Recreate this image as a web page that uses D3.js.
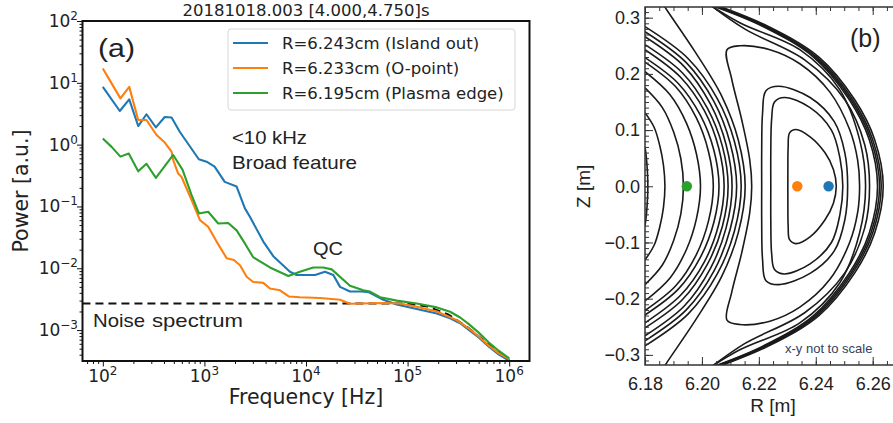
<!DOCTYPE html>
<html>
<head>
<meta charset="utf-8">
<script src="https://cdn.jsdelivr.net/npm/d3@7"></script>
<style>
  body { margin: 0; background: #fff; }
  text { font-family: "DejaVu Sans", sans-serif; fill: #222; }
  .ann text, text.ann { font-family: "Liberation Sans", Arial, sans-serif; }
</style>
</head>
<body>
<svg id="chart" width="893" height="423"></svg>
<script>
// ---------- panel (a) : spectra ----------
const islandFreq = [100,147,182,223,269,333,407,475,574,881,1050,1260,1585,2075,2505,2805,3800,4765,6950,8090,12270,15380,18580,21630,27100,35400,41700,57700,78200,123000,194000,262000,329000,398000,501000,631000,794000,1000000];
const islandPow  = [8.6,3.5,5.4,2.0,3.1,1.9,2.8,2.75,1.6,0.58,0.53,0.44,0.25,0.21,0.093,0.068,0.027,0.0157,0.0088,0.0078,0.0078,0.0088,0.0078,0.0050,0.0042,0.0042,0.0041,0.0031,0.0026,0.0022,0.00186,0.00155,0.00129,0.00102,0.00076,0.00054,0.0004,0.00032];

const opointFreq = [100,122,149,182,223,269,338,407,475,493,552,596,748,904,1089,1318,1656,1950,2240,2606,3020,3800,4416,5546,6760,8710,13740,21630,27100,57700,84300,123000,194000,305000,398000,501000,631000,794000,1000000];
const opointPow  = [17,9.8,5.6,8.6,2.5,2.5,1.43,1.08,0.77,0.56,0.34,0.30,0.127,0.060,0.047,0.027,0.0145,0.0136,0.0112,0.0073,0.0060,0.0058,0.0047,0.0044,0.0035,0.0034,0.0033,0.0031,0.00266,0.00275,0.0027,0.00238,0.0020,0.00145,0.00107,0.00079,0.00056,0.00042,0.00034];

const edgeFreq = [100,122,149,180,223,269,333,493,610,748,883,1089,1368,1714,2075,2512,3020,4416,6700,8710,11800,14790,17900,27100,36600,42700,53600,78200,123000,194000,262000,329000,398000,501000,631000,794000,1000000];
const edgePow  = [1.26,0.92,0.64,0.72,0.37,0.49,0.29,0.68,0.39,0.153,0.077,0.082,0.053,0.054,0.041,0.025,0.0151,0.0103,0.0075,0.0088,0.0103,0.0103,0.0096,0.0052,0.0044,0.0042,0.0034,0.0030,0.0027,0.00233,0.00198,0.0016,0.00126,0.00091,0.00063,0.00046,0.00035];

const noiseFreq = [63,100000,158000,251000,398000,631000,1000000];
const noisePow  = [0.0027,0.0027,0.0024,0.0018,0.00108,0.00058,0.00033];

const seriesNames = ["R=6.243cm (Island out)", "R=6.233cm (O-point)", "R=6.195cm (Plasma edge)"];
const seriesColors = ["#1f77b4", "#ff7f0e", "#2ca02c"];
const xDecades = [2, 3, 4, 5, 6];
const yDecades = [2, 1, 0, -1, -2, -3];

// ---------- panel (b) : flux surfaces ----------
const probeR = [6.2445, 6.2335, 6.1947];
const probeZ = [0, 0, 0];

// nested island surfaces (closed)
const islandSurfaces = [
  [[6.2472,0],[6.2462,0.03],[6.2432,0.06],[6.2380,0.088],[6.2330,0.101],[6.2308,0.095],[6.2303,0.07],[6.2302,0.03],[6.2302,-0.03],[6.2303,-0.07],[6.2308,-0.095],[6.2330,-0.102],[6.2380,-0.09],[6.2432,-0.06],[6.2462,-0.03]],
  [[6.2495,0],[6.2485,0.05],[6.2455,0.10],[6.2380,0.140],[6.2290,0.158],[6.2255,0.150],[6.2245,0.12],[6.2242,0.06],[6.2242,0],[6.2242,-0.06],[6.2245,-0.12],[6.2255,-0.148],[6.2290,-0.156],[6.2380,-0.138],[6.2455,-0.10],[6.2485,-0.05]],
  [[6.2512,0],[6.2502,0.06],[6.2465,0.115],[6.2380,0.158],[6.2270,0.178],[6.2225,0.170],[6.2213,0.13],[6.2210,0.06],[6.2210,0],[6.2210,-0.06],[6.2213,-0.13],[6.2225,-0.168],[6.2270,-0.175],[6.2380,-0.155],[6.2465,-0.115],[6.2502,-0.06]],
  [[6.2554,0],[6.2547,0.047],[6.2519,0.101],[6.2449,0.168],[6.2344,0.218],[6.2239,0.243],[6.2133,0.250],[6.2088,0.243],[6.2105,0.19],[6.2140,0.118],[6.2168,0.047],[6.2175,0],[6.2168,-0.047],[6.2140,-0.118],[6.2105,-0.188],[6.2088,-0.238],[6.2133,-0.246],[6.2239,-0.240],[6.2344,-0.215],[6.2449,-0.166],[6.2519,-0.100],[6.2547,-0.047]]
];

// core-side surfaces, entering and leaving through the left (or top/bottom) frame
const coreSurfaces = [
  [[6.1800,0.070],[6.1805,0.050],[6.1810,0],[6.1805,-0.050],[6.1800,-0.070]],
  [[6.1800,0.131],[6.1832,0.105],[6.1852,0.072],[6.1865,0.037],[6.1870,0],[6.1865,-0.037],[6.1852,-0.072],[6.1832,-0.105],[6.1800,-0.131]],
  [[6.1800,0.175],[6.1861,0.140],[6.1901,0.096],[6.1926,0.049],[6.1935,0],[6.1926,-0.049],[6.1901,-0.096],[6.1861,-0.140],[6.1800,-0.175]],
  [[6.1800,0.204],[6.1888,0.163],[6.1946,0.112],[6.1981,0.057],[6.1995,0],[6.1981,-0.057],[6.1946,-0.112],[6.1888,-0.163],[6.1800,-0.204]],
  [[6.1800,0.221],[6.1908,0.177],[6.1980,0.122],[6.2023,0.062],[6.2040,0],[6.2023,-0.062],[6.1980,-0.122],[6.1908,-0.177],[6.1800,-0.221]],
  [[6.1800,0.229],[6.1917,0.183],[6.1995,0.126],[6.2042,0.064],[6.2060,0],[6.2042,-0.064],[6.1995,-0.126],[6.1917,-0.183],[6.1800,-0.229]],
  [[6.1800,0.243],[6.1925,0.194],[6.2009,0.134],[6.2059,0.068],[6.2078,0],[6.2059,-0.068],[6.2009,-0.134],[6.1925,-0.194],[6.1800,-0.243]],
  [[6.1800,0.252],[6.1931,0.202],[6.2019,0.139],[6.2072,0.071],[6.2092,0],[6.2072,-0.071],[6.2019,-0.139],[6.1931,-0.202],[6.1800,-0.252]],
  [[6.1800,0.266],[6.1938,0.213],[6.2030,0.146],[6.2085,0.074],[6.2106,0],[6.2085,-0.074],[6.2030,-0.146],[6.1938,-0.213],[6.1800,-0.266]],
  [[6.1800,0.275],[6.1945,0.220],[6.2042,0.151],[6.2099,0.077],[6.2122,0],[6.2099,-0.077],[6.2042,-0.151],[6.1945,-0.220],[6.1800,-0.275]],
  [[6.1800,0.284],[6.1952,0.227],[6.2054,0.156],[6.2114,0.080],[6.2138,0],[6.2114,-0.080],[6.2054,-0.156],[6.1952,-0.227],[6.1800,-0.284]],
  [[6.1850,0.335],[6.1875,0.315],[6.1975,0.240],[6.2070,0.160],[6.2128,0.082],[6.2152,0],[6.2128,-0.082],[6.2070,-0.160],[6.1975,-0.240],[6.1875,-0.315],[6.1850,-0.335]]
];

// outer surfaces, entering through top frame and leaving through bottom frame
const outerSurfaces = [
  [[6.1990,0.335],[6.2133,0.291],[6.2344,0.243],[6.2484,0.172],[6.2554,0.083],[6.2575,0],[6.2554,-0.083],[6.2484,-0.172],[6.2344,-0.243],[6.2133,-0.291],[6.1990,-0.335]],
  [[6.2010,0.330],[6.2150,0.280],[6.2361,0.225],[6.2502,0.154],[6.2572,0.074],[6.2589,0],[6.2572,-0.074],[6.2502,-0.154],[6.2361,-0.225],[6.2150,-0.280],[6.2010,-0.330]],
  [[6.2044,0.320],[6.2216,0.284],[6.2392,0.230],[6.2518,0.154],[6.2588,0.083],[6.2617,0],[6.2588,-0.083],[6.2518,-0.154],[6.2392,-0.230],[6.2216,-0.284],[6.2044,-0.320]],
  [[6.2050,0.320],[6.2222,0.284],[6.2398,0.230],[6.2524,0.154],[6.2594,0.083],[6.2624,0],[6.2594,-0.083],[6.2524,-0.154],[6.2398,-0.230],[6.2222,-0.284],[6.2050,-0.320]],
  [[6.2056,0.320],[6.2228,0.284],[6.2404,0.230],[6.2530,0.154],[6.2600,0.083],[6.2630,0],[6.2600,-0.083],[6.2530,-0.154],[6.2404,-0.230],[6.2228,-0.284],[6.2056,-0.320]],
  [[6.2063,0.320],[6.2235,0.284],[6.2411,0.230],[6.2537,0.154],[6.2607,0.083],[6.2637,0],[6.2607,-0.083],[6.2537,-0.154],[6.2411,-0.230],[6.2235,-0.284],[6.2063,-0.320]]
];

const svg = d3.select("#chart");

// ================= panel (a) =================
const A = { left: 82.5, right: 529.5, top: 21, bottom: 361 };
const x = d3.scaleLog().domain([Math.pow(10, 1.8), Math.pow(10, 6.2)]).range([A.left, A.right]);
const y = d3.scaleLog().domain([Math.pow(10, -3.5), 100]).range([A.bottom, A.top]);

svg.append("clipPath").attr("id", "clipA").append("rect")
  .attr("x", A.left).attr("y", A.top).attr("width", A.right - A.left).attr("height", A.bottom - A.top);

const gA = svg.append("g");
const plotA = gA.append("g").attr("clip-path", "url(#clipA)");

const line = d3.line().x(d => x(d[0])).y(d => y(d[1]));
const series = [
  d3.zip(islandFreq, islandPow),
  d3.zip(opointFreq, opointPow),
  d3.zip(edgeFreq, edgePow)
];

plotA.append("path").datum(d3.zip(noiseFreq, noisePow))
  .attr("d", line).attr("fill", "none").attr("stroke", "#111")
  .attr("stroke-width", 2).attr("stroke-dasharray", "8,5");

series.forEach((s, i) => {
  plotA.append("path").datum(s).attr("d", line)
    .attr("fill", "none").attr("stroke", seriesColors[i])
    .attr("stroke-width", 2.1).attr("stroke-linejoin", "round");
});

// minor tick values
const minorX = [], minorY = [];
d3.range(1, 7).forEach(e => d3.range(2, 10).forEach(m => {
  const v = m * Math.pow(10, e);
  if (v > x.domain()[0] && v < x.domain()[1]) minorX.push(v);
}));
d3.range(-4, 3).forEach(e => d3.range(2, 10).forEach(m => {
  const v = m * Math.pow(10, e);
  if (v > y.domain()[0] && v < y.domain()[1]) minorY.push(v);
}));

function styleAxis(g) {
  g.select(".domain").remove();
  g.selectAll(".tick line").attr("stroke", "#111").attr("stroke-width", 1);
  g.selectAll(".tick text").remove();
}
gA.append("g").attr("transform", `translate(0,${A.bottom})`)
  .call(d3.axisBottom(x).tickValues(minorX).tickSize(3)).call(styleAxis);
gA.append("g").attr("transform", `translate(0,${A.bottom})`)
  .call(d3.axisBottom(x).tickValues(xDecades.map(e => Math.pow(10, e))).tickSize(5.5)).call(styleAxis);
gA.append("g").attr("transform", `translate(${A.left},0)`)
  .call(d3.axisLeft(y).tickValues(minorY).tickSize(3)).call(styleAxis);
gA.append("g").attr("transform", `translate(${A.left},0)`)
  .call(d3.axisLeft(y).tickValues(yDecades.map(e => Math.pow(10, e))).tickSize(5.5)).call(styleAxis);

// frame
gA.append("rect").attr("x", A.left).attr("y", A.top)
  .attr("width", A.right - A.left).attr("height", A.bottom - A.top)
  .attr("fill", "none").attr("stroke", "#111").attr("stroke-width", 2);

// tick labels with superscripts
xDecades.forEach(e => {
  const t = gA.append("text").attr("x", x(Math.pow(10, e))).attr("y", 382)
    .attr("text-anchor", "middle").style("font-size", "17px");
  t.append("tspan").text("10");
  t.append("tspan").attr("dy", -7).style("font-size", "12px").text(String(e));
});
yDecades.forEach(e => {
  const t = gA.append("text").attr("x", 78).attr("y", y(Math.pow(10, e)) + 6)
    .attr("text-anchor", "end").style("font-size", "17px");
  t.append("tspan").text("10");
  t.append("tspan").attr("dy", -7).style("font-size", "12px").text(e < 0 ? "\u2212" + (-e) : String(e));
});

gA.append("text").attr("x", (A.left + A.right) / 2).attr("y", 16)
  .attr("text-anchor", "middle").style("font-size", "16.5px")
  .text("20181018.003 [4.000,4.750]s");
gA.append("text").attr("x", (A.left + A.right) / 2).attr("y", 404)
  .attr("text-anchor", "middle").style("font-size", "20.5px").text("Frequency [Hz]");
gA.append("text").attr("transform", `translate(28,${(A.top + A.bottom) / 2}) rotate(-90)`)
  .attr("text-anchor", "middle").style("font-size", "20.5px").text("Power [a.u.]");

// legend
const leg = gA.append("g");
leg.append("rect").attr("x", 228).attr("y", 29).attr("width", 287).attr("height", 81).attr("rx", 3)
  .attr("fill", "#fff").attr("fill-opacity", 0.85).attr("stroke", "#d6d6d6");
seriesNames.forEach((n, i) => {
  const ly = 43 + i * 25;
  leg.append("line").attr("x1", 233).attr("x2", 268).attr("y1", ly).attr("y2", ly)
    .attr("stroke", seriesColors[i]).attr("stroke-width", 2.1);
  leg.append("text").attr("x", 282).attr("y", ly + 6).style("font-size", "16.5px").text(n);
});

// annotations (widths matched to the reference)
const ann = gA.append("g").attr("class", "ann");
function note(tx, ty, size, len, s) {
  ann.append("text").attr("x", tx).attr("y", ty).style("font-size", size + "px")
    .attr("textLength", len).attr("lengthAdjust", "spacingAndGlyphs").text(s);
}
note(98, 57, 25, 37, "(a)");
note(232, 144, 19, 75, "<10 kHz");
note(232, 169, 19, 125, "Broad feature");
note(313, 255, 19, 30, "QC");
note(93, 327, 19, 52, "Noise");
note(152, 327, 19, 91, "spectrum");

// ================= panel (b) =================
const B = { left: 645, right: 904, top: 7, bottom: 365 };
const xb = d3.scaleLinear().domain([6.18, 6.271]).range([B.left, B.right]);
const yb = d3.scaleLinear().domain([-0.318, 0.319]).range([B.bottom, B.top]);

svg.append("clipPath").attr("id", "clipB").append("rect")
  .attr("x", B.left).attr("y", B.top).attr("width", B.right - B.left).attr("height", B.bottom - B.top);
const gB = svg.append("g");
const plotB = gB.append("g").attr("clip-path", "url(#clipB)");

const openLine = d3.line().x(d => xb(d[0])).y(d => yb(d[1])).curve(d3.curveCatmullRom);
const closedLine = d3.line().x(d => xb(d[0])).y(d => yb(d[1])).curve(d3.curveCatmullRomClosed);

coreSurfaces.concat(outerSurfaces).forEach(c => {
  plotB.append("path").datum(c).attr("d", openLine)
    .attr("fill", "none").attr("stroke", "#1a1a1a").attr("stroke-width", 1.6);
});
islandSurfaces.forEach(c => {
  plotB.append("path").datum(c).attr("d", closedLine)
    .attr("fill", "none").attr("stroke", "#1a1a1a").attr("stroke-width", 1.6);
});

probeR.forEach((r, i) => {
  plotB.append("circle").attr("cx", xb(r)).attr("cy", yb(probeZ[i])).attr("r", 5.2)
    .attr("fill", seriesColors[i]);
});

function styleB(g) {
  g.select(".domain").remove();
  g.selectAll(".tick line").attr("stroke", "#333").attr("stroke-width", 1);
  g.selectAll(".tick text").style("font-family", "'Liberation Sans', Arial, sans-serif")
    .style("font-size", "18px").attr("fill", "#333");
}
const bxMajor = [6.18, 6.20, 6.22, 6.24, 6.26];
const byMajor = [-0.3, -0.2, -0.1, 0, 0.1, 0.2, 0.3];
const bxMinor = d3.range(6.18, 6.271, 0.005);
const byMinor = d3.range(-0.31, 0.315, 0.01);

gB.append("g").attr("transform", `translate(0,${B.bottom})`)
  .call(d3.axisBottom(xb).tickValues(bxMinor).tickSize(-4).tickFormat("")).call(styleB);
gB.append("g").attr("transform", `translate(0,${B.bottom})`)
  .call(d3.axisBottom(xb).tickValues(bxMajor).tickSize(-8).tickPadding(12).tickFormat(d3.format(".2f"))).call(styleB);
gB.append("g").attr("transform", `translate(0,${B.top})`)
  .call(d3.axisTop(xb).tickValues(bxMinor).tickSize(-4).tickFormat("")).call(styleB);
gB.append("g").attr("transform", `translate(0,${B.top})`)
  .call(d3.axisTop(xb).tickValues(bxMajor).tickSize(-8).tickFormat("")).call(styleB);
gB.append("g").attr("transform", `translate(${B.left},0)`)
  .call(d3.axisLeft(yb).tickValues(byMinor).tickSize(-4).tickFormat("")).call(styleB);
gB.append("g").attr("transform", `translate(${B.left},0)`)
  .call(d3.axisLeft(yb).tickValues(byMajor).tickSize(-8).tickPadding(5).tickFormat(d3.format(".1f"))).call(styleB);

gB.append("rect").attr("x", B.left).attr("y", B.top)
  .attr("width", B.right - B.left).attr("height", B.bottom - B.top)
  .attr("fill", "none").attr("stroke", "#333").attr("stroke-width", 1.5);

gB.append("text").attr("class", "ann").attr("x", (B.left + 901) / 2).attr("y", 412)
  .attr("text-anchor", "middle").style("font-size", "19px").attr("fill", "#333").text("R [m]");
gB.append("text").attr("class", "ann").attr("transform", `translate(590,${yb(0)}) rotate(-90)`)
  .attr("text-anchor", "middle").style("font-size", "19px").attr("fill", "#333").text("Z [m]");
gB.append("text").attr("class", "ann").attr("x", 850).attr("y", 47)
  .style("font-size", "25px").text("(b)");
gB.append("text").attr("class", "ann").attr("x", 785).attr("y", 353)
  .style("font-size", "13px").style("fill", "#34405a").text("x-y not to scale");
</script>
</body>
</html>
